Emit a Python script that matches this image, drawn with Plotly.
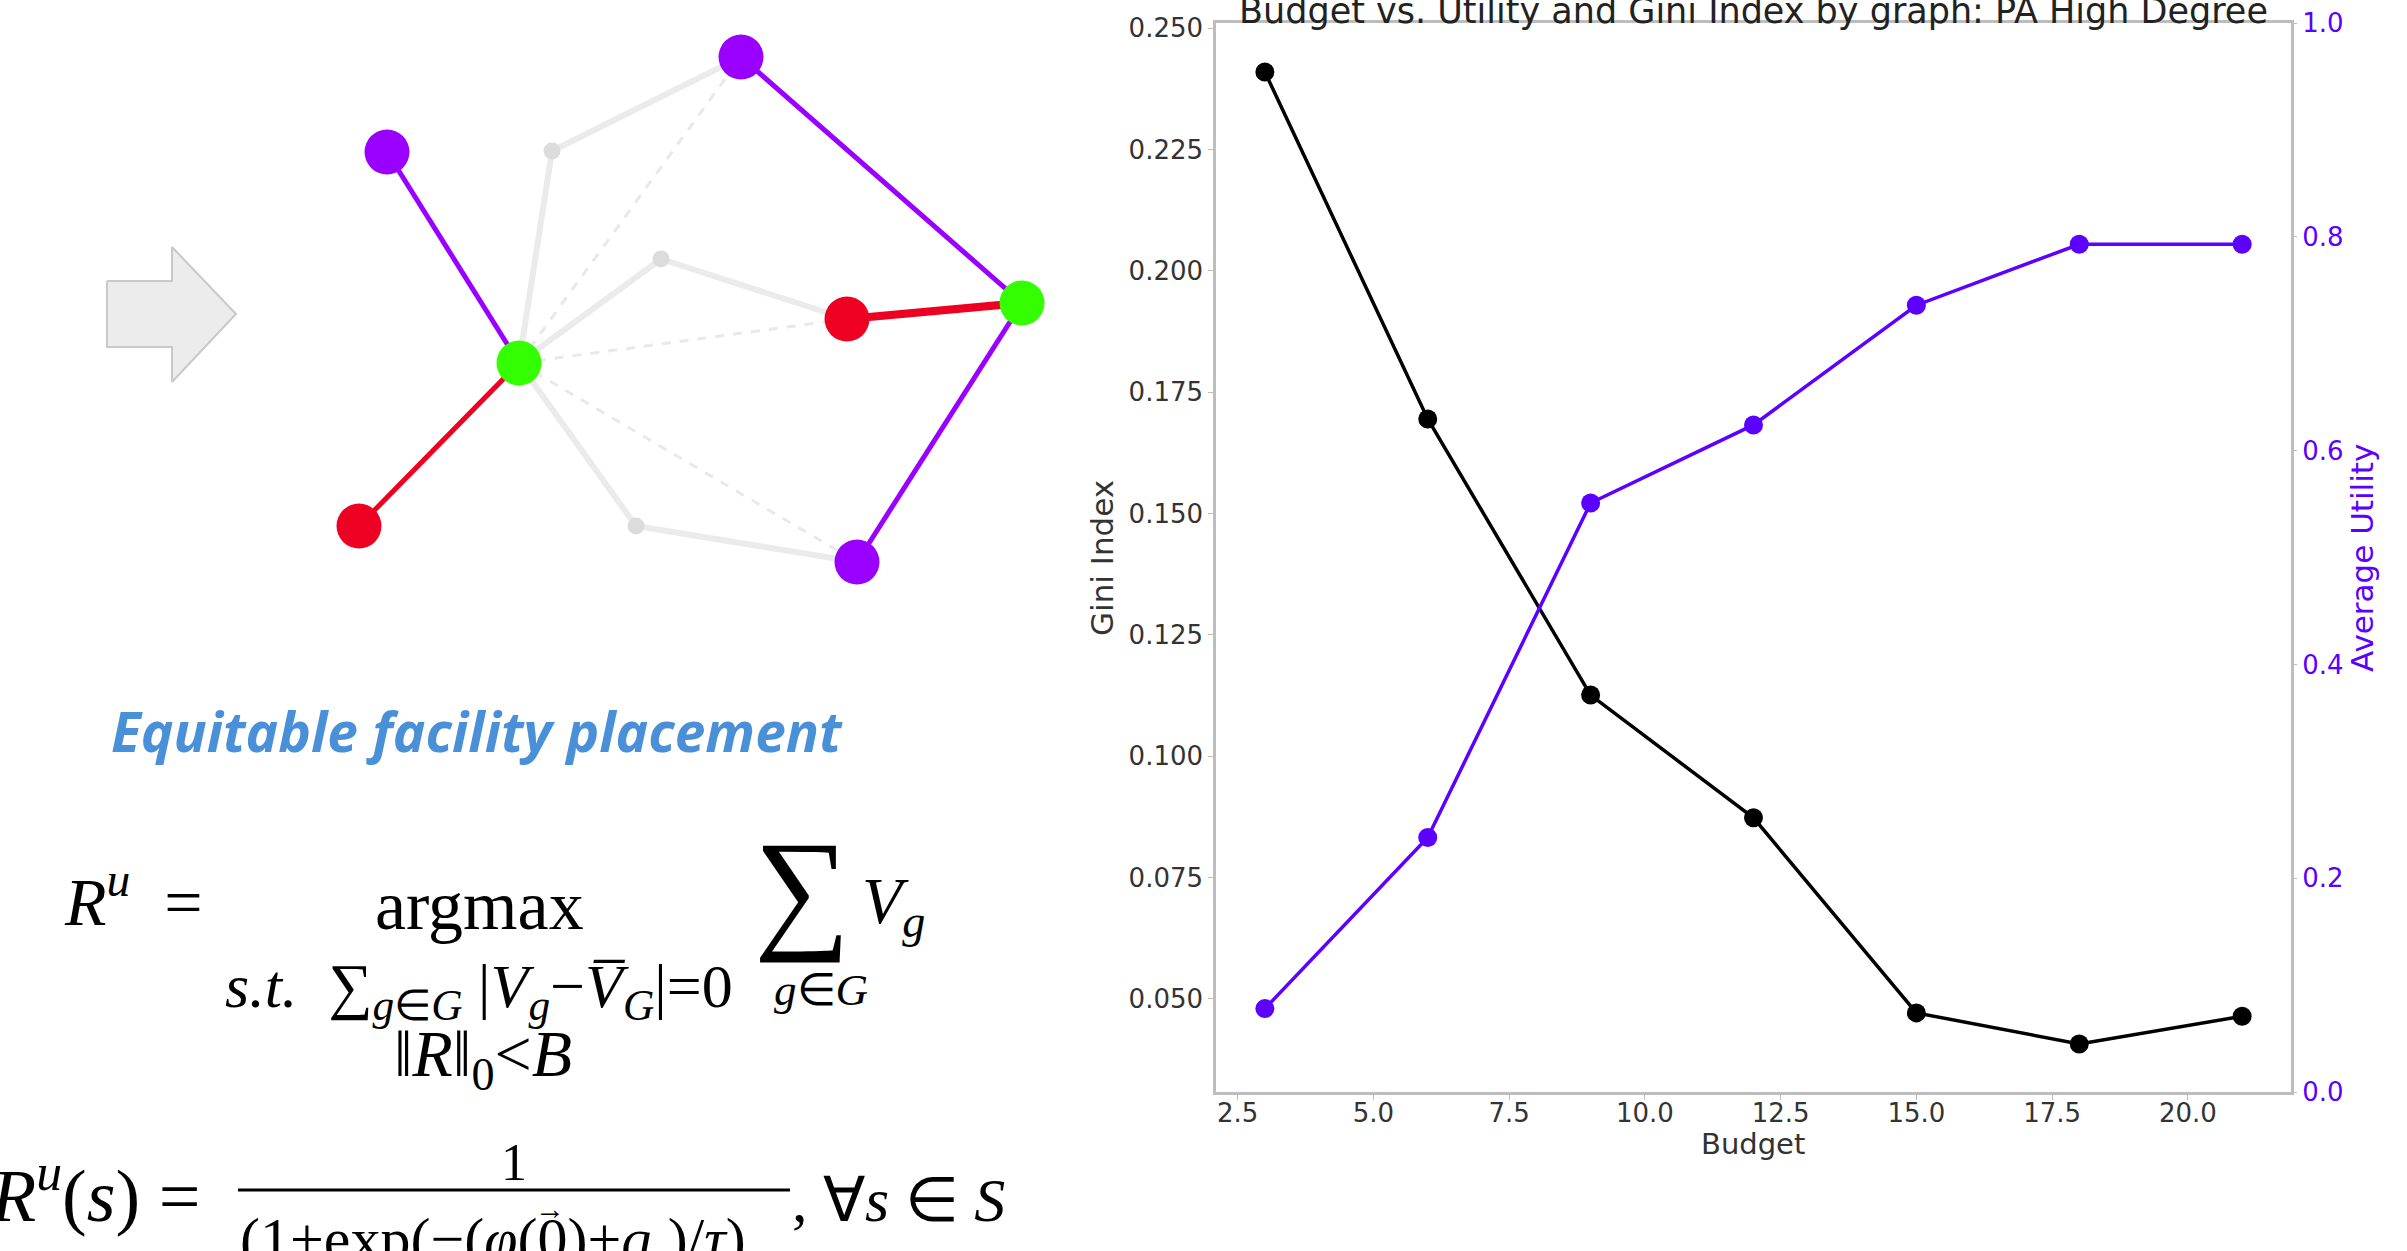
import plotly.graph_objects as go

# ---------------- chart data ----------------
budget = [3, 6, 9, 12, 15, 18, 21]
gini = [0.241, 0.1695, 0.1126, 0.0873, 0.0471, 0.0407, 0.0464]
utility = [0.078, 0.238, 0.551, 0.624, 0.736, 0.793, 0.793]

x_ticks = [2.5, 5.0, 7.5, 10.0, 12.5, 15.0, 17.5, 20.0]
gini_ticks = [0.050, 0.075, 0.100, 0.125, 0.150, 0.175, 0.200, 0.225, 0.250]
util_ticks = [0.0, 0.2, 0.4, 0.6, 0.8, 1.0]

title_text = "Budget vs. Utility and Gini Index by graph: PA High Degree"
x_title = "Budget"
y_title = "Gini Index"
y2_title = "Average Utility"

# ---------------- diagram (left panel) ----------------
node_names = ["A", "B", "C", "D", "E", "F", "G", "g1", "g2", "g3"]
node_x = [387, 741, 519, 847, 1022, 359, 857, 552, 661, 636]
node_y = [152, 57, 363, 319, 303, 526, 562, 151, 259, 526]
node_kind = ["purple", "purple", "green", "red", "green", "red", "purple", "grey", "grey", "grey"]

edges_colored = [("A", "C", "purple"), ("B", "E", "purple"), ("E", "G", "purple"),
                 ("C", "F", "red"), ("D", "E", "redthick")]
edges_grey = [("g1", "B"), ("g1", "C"), ("g2", "C"), ("g2", "D"), ("g3", "C"), ("g3", "G")]
edges_dashed = [("C", "B"), ("C", "D"), ("C", "G")]

arrow_x = [107, 172, 172, 236, 172, 172, 107, 107]
arrow_y = [281, 281, 247, 314, 382, 347, 347, 281]

W, H = 2407, 1251
PURPLE_LINE = "#5c00ff"
COL = {"purple": "#9900ff", "green": "#33ff00", "red": "#ee0022", "grey": "#dcdcdc"}

fig = go.Figure()

# chart traces
fig.add_trace(go.Scatter(x=budget, y=gini, mode="lines+markers",
                         line=dict(color="black", width=3.5),
                         marker=dict(color="black", size=19, opacity=1),
                         xaxis="x", yaxis="y", showlegend=False))
fig.add_trace(go.Scatter(x=budget, y=utility, mode="lines+markers",
                         line=dict(color=PURPLE_LINE, width=3.5),
                         marker=dict(color=PURPLE_LINE, size=19, opacity=1),
                         xaxis="x", yaxis="y2", showlegend=False))

# diagram traces (pixel coordinates via hidden axes x3/y3)
idx = {n: i for i, n in enumerate(node_names)}

fig.add_trace(go.Scatter(x=arrow_x, y=arrow_y, mode="lines", fill="toself",
                         fillcolor="#ececec", line=dict(color="#c9c9c9", width=2),
                         xaxis="x3", yaxis="y3", showlegend=False, hoverinfo="skip"))

for a, b in edges_dashed:
    fig.add_trace(go.Scatter(x=[node_x[idx[a]], node_x[idx[b]]], y=[node_y[idx[a]], node_y[idx[b]]],
                             mode="lines", line=dict(color="#e9e9e9", width=3, dash="dash"),
                             xaxis="x3", yaxis="y3", showlegend=False, hoverinfo="skip"))
for a, b in edges_grey:
    fig.add_trace(go.Scatter(x=[node_x[idx[a]], node_x[idx[b]]], y=[node_y[idx[a]], node_y[idx[b]]],
                             mode="lines", line=dict(color="#ebebeb", width=6),
                             xaxis="x3", yaxis="y3", showlegend=False, hoverinfo="skip"))
for a, b, c in edges_colored:
    color = COL["red"] if c.startswith("red") else COL["purple"]
    width = 8 if c == "redthick" else 5
    fig.add_trace(go.Scatter(x=[node_x[idx[a]], node_x[idx[b]]], y=[node_y[idx[a]], node_y[idx[b]]],
                             mode="lines", line=dict(color=color, width=width),
                             xaxis="x3", yaxis="y3", showlegend=False, hoverinfo="skip"))

fig.add_trace(go.Scatter(x=node_x, y=node_y, mode="markers",
                         marker=dict(color=[COL[k] for k in node_kind],
                                     size=[17 if k == "grey" else 45 for k in node_kind],
                                     opacity=1, line=dict(width=0)),
                         xaxis="x3", yaxis="y3", showlegend=False, hoverinfo="skip"))

tick_font = dict(family="DejaVu Sans", size=26, color="#333333")

fig.update_layout(
    width=W, height=H, margin=dict(l=0, r=0, t=0, b=0, autoexpand=False),
    paper_bgcolor="white", plot_bgcolor="white",
    xaxis=dict(domain=[1216 / W, 2291 / W], range=[2.1, 21.9], automargin=False,
               tickvals=x_ticks, ticktext=[f"{v:.1f}" for v in x_ticks],
               ticks="outside", ticklen=5, tickcolor="#bdbdbd", tickfont=tick_font,
               ticklabelstandoff=-9,
               showline=True, linecolor="#bdbdbd", linewidth=2.5, mirror=True,
               showgrid=False, zeroline=False),
    yaxis=dict(domain=[1 - 1092 / H, 1 - 23 / H], range=[0.0308, 0.2511], automargin=False,
               tickvals=gini_ticks, ticktext=[f"{v:.3f}" for v in gini_ticks],
               ticks="outside", ticklen=5, tickcolor="#bdbdbd", tickfont=tick_font,
               showline=True, linecolor="#bdbdbd", linewidth=2.5, mirror=True,
               showgrid=False, zeroline=False),
    yaxis2=dict(overlaying="y", side="right", range=[0, 1], automargin=False,
                tickvals=util_ticks, ticktext=[f"{v:.1f}" for v in util_ticks],
                ticks="outside", ticklen=5, tickcolor="#bdbdbd",
                tickfont=dict(family="DejaVu Sans", size=26, color=PURPLE_LINE),
                showline=False, showgrid=False, zeroline=False),
    xaxis3=dict(domain=[0, 1060 / W], range=[0, 1060], visible=False, fixedrange=True,
                automargin=False, anchor="y3"),
    yaxis3=dict(domain=[0, 1], range=[H, 0], visible=False, fixedrange=True,
                automargin=False, anchor="x3"),
)


def P(text, x, y, size, xanchor="left", color="black", family="Liberation Serif", **kw):
    """annotation placed in figure pixel coordinates (converted to paper)"""
    return dict(text=text, xref="paper", yref="paper", x=x / W, y=1 - y / H,
                xanchor=xanchor, yanchor="middle", showarrow=False,
                font=dict(family=family, size=size, color=color, **kw))


SP = "\u2005"  # quarter-em space

ann = []
# chart texts
ann.append(P(title_text, 1753, 11, 35, xanchor="center", color="#222222", family="DejaVu Sans"))
ann.append(P(x_title, 1753, 1144, 29, xanchor="center", color="#333333", family="DejaVu Sans"))
a = P(y_title, 1102, 558, 31, xanchor="center", color="#333333", family="DejaVu Sans")
a["textangle"] = -90
ann.append(a)
a = P(y2_title, 2362, 558, 31, xanchor="center", color=PURPLE_LINE, family="DejaVu Sans")
a["textangle"] = -90
ann.append(a)

# left panel texts
ann.append(P("<i>Equitable facility placement</i>", 477, 730, 55, xanchor="center",
             color="#4a90d9", family="Open Sans", weight=700))

ann.append(P("<i>R</i><sup><i>u</i></sup>" + SP + SP + "=", 62, 897, 68))
ann.append(P("argmax", 479, 905, 70, xanchor="center"))
ann.append(P("∑", 802, 888, 135, xanchor="center"))
ann.append(P("<i>V</i><sub><i>g</i></sub>", 860, 905, 66))
ann.append(P("<i>s.t.</i>" + SP + SP + "∑<sub><i>g</i>∈<i>G</i></sub>" + SP + "|<i>V</i><sub><i>g</i></sub>"
             + "−<i>V̅</i><sub><i>G</i></sub>|=0",
             223, 990, 62))
ann.append(P("<i>g</i>∈<i>G</i>", 772, 990, 45))
ann.append(P("‖<i>R</i>‖<sub>0</sub>&lt;<i>B</i>", 483, 1058, 66, xanchor="center"))

ann.append(P("<i>R</i><sup><i>u</i></sup>(<i>s</i>)" + SP + "=", -12, 1190, 74))
ann.append(P("1", 514, 1162, 52, xanchor="center"))
ann.append(P("(1+exp(−(<i>φ</i>(0)+<i>q</i><sub><i>s</i></sub>)/<i>τ</i>)", 493, 1243, 60, xanchor="center"))
ann.append(P("→", 550, 1208, 30, xanchor="center"))
ann.append(P(", ∀<i>s</i> ∈ <i>S</i>", 790, 1200, 62))

fig.update_layout(annotations=ann)
fig.add_shape(type="line", xref="x3", yref="y3", x0=238, x1=790, y0=1190, y1=1190,
              line=dict(color="black", width=3))

fig.write_html("out.html", config={"displayModeBar": False},
               post_script="document.body.style.margin='0px';document.body.style.overflow='hidden';")
